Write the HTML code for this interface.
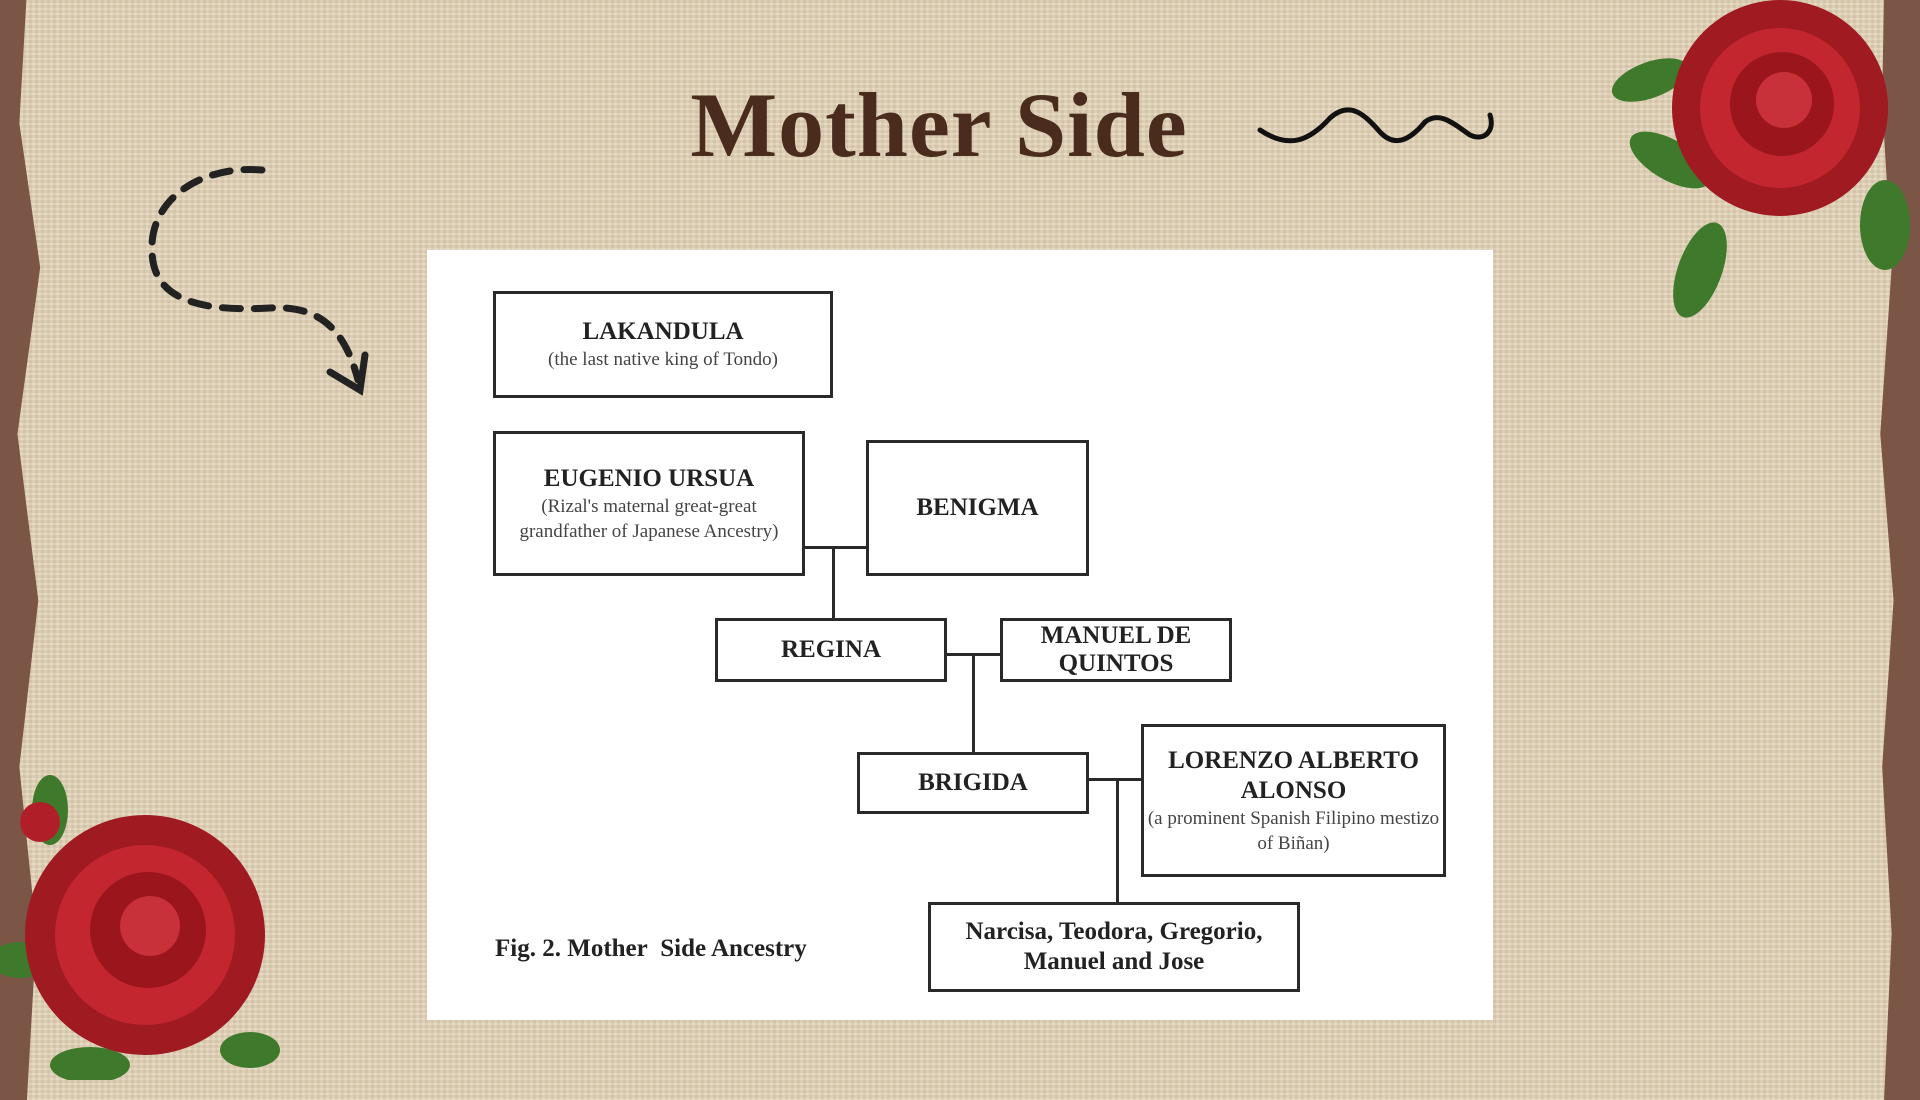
<!DOCTYPE html>
<html><head><meta charset="utf-8"><style>
html,body{margin:0;padding:0;width:1920px;height:1080px;overflow:hidden;background:#7b5646;}
.paper{position:absolute;left:8px;top:-10px;width:1895px;height:1110px;background:#e1d1b4;
background-image:repeating-linear-gradient(0deg,rgba(255,255,255,0.12) 0 2px,rgba(0,0,0,0.03) 2px 5px),repeating-linear-gradient(90deg,rgba(255,255,255,0.08) 0 3px,rgba(0,0,0,0.03) 3px 6px);
clip-path:polygon(1% 0,99% 0,98.9% 10%,99.4% 25%,98.8% 40%,99.5% 55%,98.9% 70%,99.4% 85%,99% 100%,1% 100%,1.5% 85%,0.6% 70%,1.6% 55%,0.5% 40%,1.7% 25%,0.6% 12%);}
.title{position:absolute;left:0;width:1862px;top:82px;text-align:center;font-family:"Liberation Serif",serif;font-weight:bold;font-size:92px;color:#4a2c1f;letter-spacing:1px;}
.panel{position:absolute;left:427px;top:250px;width:1066px;height:770px;background:#fff;}
.b{position:absolute;border:3px solid #2a2a2a;box-sizing:border-box;display:flex;flex-direction:column;align-items:center;justify-content:center;text-align:center;font-family:"Liberation Serif",serif;color:#222;}
.b h{font-weight:bold;font-size:25px;line-height:30px;display:block;}
.b s{text-decoration:none;font-size:19px;line-height:25px;color:#444;display:block;}
.l{position:absolute;background:#2a2a2a;}
</style></head><body>
<div class="paper"><div class="title">Mother Side</div></div>
<svg style="position:absolute;left:0;top:0" width="1920" height="1080">
<path d="M262,170 C200,165 150,200 152,250 C152,300 200,312 270,308 C320,305 345,330 358,380" fill="none" stroke="#222" stroke-width="7" stroke-dasharray="18 14" stroke-linecap="round"/>
<path d="M330,372 L360,390 L365,355" fill="none" stroke="#222" stroke-width="7" stroke-linecap="round"/>
<path d="M1260,130 C1290,150 1310,140 1330,118 C1350,100 1365,115 1380,132 C1395,148 1410,140 1425,122 C1440,110 1455,125 1470,135 C1485,142 1495,130 1490,115" fill="none" stroke="#111" stroke-width="5" stroke-linecap="round"/>
<g>
<ellipse cx="1650" cy="80" rx="40" ry="18" fill="#3f7a2c" transform="rotate(-20 1650 80)"/>
<ellipse cx="1700" cy="270" rx="22" ry="50" fill="#3f7a2c" transform="rotate(20 1700 270)"/>
<ellipse cx="1885" cy="225" rx="25" ry="45" fill="#3f7a2c"/>
<ellipse cx="1670" cy="160" rx="45" ry="20" fill="#3f7a2c" transform="rotate(30 1670 160)"/>
<circle cx="1780" cy="108" r="108" fill="#a01a22"/>
<circle cx="1780" cy="108" r="80" fill="#c3262e"/>
<circle cx="1782" cy="104" r="52" fill="#9b151d"/>
<circle cx="1784" cy="100" r="28" fill="#c8303a"/>
</g>
<g>
<ellipse cx="50" cy="810" rx="18" ry="35" fill="#3f7a2c"/>
<ellipse cx="250" cy="1050" rx="30" ry="18" fill="#3f7a2c"/>
<ellipse cx="20" cy="960" rx="30" ry="18" fill="#3f7a2c"/>
<ellipse cx="90" cy="1065" rx="40" ry="18" fill="#3f7a2c"/>
<circle cx="145" cy="935" r="120" fill="#a01a22"/>
<circle cx="145" cy="935" r="90" fill="#c3262e"/>
<circle cx="148" cy="930" r="58" fill="#9b151d"/>
<circle cx="150" cy="926" r="30" fill="#c8303a"/>
<circle cx="40" cy="822" r="20" fill="#b01f28"/>
</g>
</svg>
<div style="position:absolute;left:0;top:0;">
<div class="panel"></div>
<div class="b" style="left:493px;top:291px;width:340px;height:107px;"><h>LAKANDULA</h><s>(the last native king of Tondo)</s></div>
<div class="b" style="left:493px;top:431px;width:312px;height:145px;"><h>EUGENIO URSUA</h><s>(Rizal's maternal great-great grandfather of Japanese Ancestry)</s></div>
<div class="b" style="left:866px;top:440px;width:223px;height:136px;"><h>BENIGMA</h></div>
<div class="b" style="left:715px;top:618px;width:232px;height:64px;"><h>REGINA</h></div>
<div class="b" style="left:1000px;top:618px;width:232px;height:64px;"><h style="line-height:28px">MANUEL DE QUINTOS</h></div>
<div class="b" style="left:857px;top:752px;width:232px;height:62px;"><h>BRIGIDA</h></div>
<div class="b" style="left:1141px;top:724px;width:305px;height:153px;"><h>LORENZO ALBERTO ALONSO</h><s>(a prominent Spanish Filipino mestizo of Biñan)</s></div>
<div class="b" style="left:928px;top:902px;width:372px;height:90px;"><h>Narcisa, Teodora, Gregorio, Manuel and Jose</h></div>
<div style="position:absolute;left:495px;top:935px;white-space:nowrap;font-family:'Liberation Serif',serif;font-weight:bold;font-size:25px;color:#222;">Fig. 2. Mother&nbsp; Side Ancestry</div>
<div class="l" style="left:805px;top:546px;width:61px;height:3px"></div>
<div class="l" style="left:832px;top:546px;width:3px;height:72px"></div>
<div class="l" style="left:947px;top:653px;width:53px;height:3px"></div>
<div class="l" style="left:972px;top:653px;width:3px;height:99px"></div>
<div class="l" style="left:1089px;top:778px;width:52px;height:3px"></div>
<div class="l" style="left:1116px;top:778px;width:3px;height:124px"></div>
</div>
</body></html>
